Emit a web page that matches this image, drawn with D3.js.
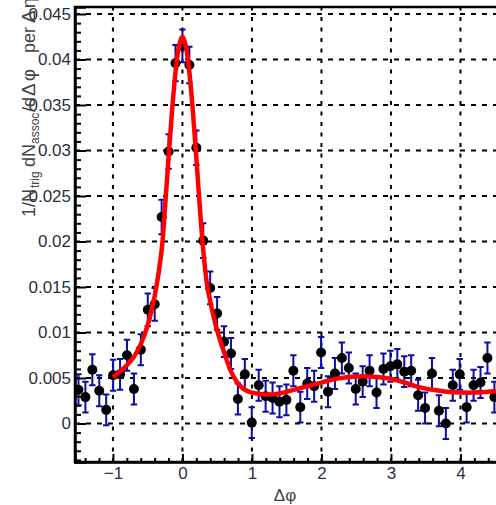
<!DOCTYPE html>
<html>
<head>
<meta charset="utf-8">
<script src="https://cdn.jsdelivr.net/npm/d3@7"></script>
<style>
  html, body { margin: 0; padding: 0; background: #fff; overflow: hidden; }
  text { font-family: "Liberation Sans", Arial, Helvetica, sans-serif; }
</style>
</head>
<body>
<svg id="chart" width="496" height="505"></svg>
<script>
// Δφ correlation histogram: 63 bins over [-π/2, 3π/2), bin k centred at k·(2π/63)
const binWidth = 2 * Math.PI / 63;
const binIndex = d3.range(-15, 46);

// per-bin yield 1/N_trig dN_assoc/dΔφ
const yieldValues = [
  0.0037, 0.0029, 0.0059, 0.0036, 0.0015, 0.0053, 0.0054, 0.0075, 0.0038, 0.0081,
  0.0125, 0.0131, 0.0227, 0.0299, 0.0396, 0.0415, 0.0394, 0.0303, 0.0201, 0.0149,
  0.0121, 0.0090, 0.0077, 0.0027, 0.0054, 0.0001, 0.0042, 0.0030, 0.0028, 0.0024,
  0.0026, 0.0058, 0.0018, 0.0044, 0.0041, 0.0078, 0.0035, 0.0055, 0.0072, 0.0061,
  0.0038, 0.0046, 0.0058, 0.0034, 0.0060, 0.0063, 0.0065, 0.0057, 0.0058, 0.0031,
  0.0017, 0.0055, 0.0014, 0.0000, 0.0042, 0.0054, 0.0018, 0.0042, 0.0045, 0.0072,
  0.0029
];

// statistical error on each bin
const yieldErrors = [
  0.0017, 0.0017, 0.0017, 0.0017, 0.0017, 0.0017, 0.0017, 0.0017, 0.0017, 0.0017,
  0.0018, 0.0018, 0.0019, 0.0019, 0.0020, 0.0018, 0.0020, 0.0019, 0.0019, 0.0018,
  0.0018, 0.0017, 0.0017, 0.0017, 0.0017, 0.0017, 0.0017, 0.0017, 0.0017, 0.0017,
  0.0017, 0.0017, 0.0017, 0.0017, 0.0017, 0.0017, 0.0017, 0.0017, 0.0017, 0.0017,
  0.0017, 0.0017, 0.0017, 0.0017, 0.0017, 0.0017, 0.0017, 0.0017, 0.0017, 0.0017,
  0.0017, 0.0017, 0.0017, 0.0017, 0.0017, 0.0017, 0.0017, 0.0017, 0.0017, 0.0017,
  0.0017
];

// fit function sampled along Δφ
const fitPhi = [
  -1.00, -0.90, -0.80, -0.70, -0.60, -0.50, -0.40, -0.30, -0.25, -0.20,
  -0.15, -0.10, -0.05, 0.00, 0.05, 0.10, 0.15, 0.20, 0.25, 0.30,
  0.35, 0.40, 0.50, 0.60, 0.70, 0.80, 0.90, 1.00, 1.20, 1.40,
  1.60, 1.80, 2.00, 2.20, 2.40, 2.60, 2.80, 3.00, 3.20, 3.40,
  3.60, 3.80, 4.00, 4.20, 4.40, 4.60, 4.74
];
const fitValues = [
  0.0051, 0.0057, 0.0064, 0.0073, 0.0087, 0.0108, 0.0140, 0.0190, 0.0238, 0.0292,
  0.0343, 0.0386, 0.0414, 0.0425, 0.0414, 0.0386, 0.0343, 0.0292, 0.0238, 0.0190,
  0.0155, 0.0134, 0.0102, 0.0078, 0.0057, 0.0044, 0.0037, 0.0034, 0.0032, 0.0033,
  0.0037, 0.0041, 0.0045, 0.0049, 0.0051, 0.0052, 0.0051, 0.0049, 0.0045, 0.0040,
  0.0037, 0.0035, 0.0034, 0.0034, 0.0035, 0.0036, 0.0037
];

const xTicks = [-1, 0, 1, 2, 3, 4];
const yTicks = [0, 0.005, 0.01, 0.015, 0.02, 0.025, 0.03, 0.035, 0.04, 0.045];

const svg = d3.select("#chart");
const frameL = 75, frameR = 511.7, frameT = 7, frameB = 462;

const x = d3.scaleLinear().domain([-15.5 * binWidth, 47.5 * binWidth]).range([frameL, frameR]);
const y = d3.scaleLinear().domain([-0.00423, 0.04577]).range([frameB, frameT]);

const points = binIndex.map((k, i) => ({ phi: k * binWidth, v: yieldValues[i], e: yieldErrors[i] }));

svg.append("defs").append("clipPath").attr("id", "plotClip")
  .append("rect").attr("x", frameL).attr("y", frameT).attr("width", frameR - frameL).attr("height", frameB - frameT);

// dashed grid at the major ticks
const grid = svg.append("g").attr("stroke", "#000").attr("stroke-width", 2).attr("fill", "none");
grid.selectAll("line.gx").data(xTicks).join("line").attr("class", "gx")
  .attr("x1", d => x(d)).attr("x2", d => x(d)).attr("y1", frameB).attr("y2", frameT)
  .attr("stroke-dasharray", "4,6.5");
grid.selectAll("line.gy").data(yTicks).join("line").attr("class", "gy")
  .attr("y1", d => y(d)).attr("y2", d => y(d)).attr("x1", frameL).attr("x2", frameR)
  .attr("stroke-dasharray", "5,6");

const plot = svg.append("g").attr("clip-path", "url(#plotClip)");

// error bars with end caps
const eb = plot.append("g").attr("stroke", "#0c0ca8").attr("stroke-width", 2);
eb.selectAll("line.stem").data(points).join("line").attr("class", "stem")
  .attr("x1", d => x(d.phi)).attr("x2", d => x(d.phi))
  .attr("y1", d => y(d.v - d.e)).attr("y2", d => y(d.v + d.e));
eb.selectAll("line.capHi").data(points).join("line").attr("class", "capHi")
  .attr("x1", d => x(d.phi) - 3.2).attr("x2", d => x(d.phi) + 3.2)
  .attr("y1", d => y(d.v + d.e)).attr("y2", d => y(d.v + d.e));
eb.selectAll("line.capLo").data(points).join("line").attr("class", "capLo")
  .attr("x1", d => x(d.phi) - 3.2).attr("x2", d => x(d.phi) + 3.2)
  .attr("y1", d => y(d.v - d.e)).attr("y2", d => y(d.v - d.e));

// markers
plot.append("g").selectAll("circle").data(points).join("circle")
  .attr("cx", d => x(d.phi)).attr("cy", d => y(d.v)).attr("r", 5).attr("fill", "#000");

// fit curve
const fitLine = d3.line().x(d => x(d[0])).y(d => y(d[1])).curve(d3.curveCatmullRom.alpha(0.5));
plot.append("path").datum(fitPhi.map((p, i) => [p, fitValues[i]]))
  .attr("d", fitLine).attr("fill", "none").attr("stroke", "#ff0000").attr("stroke-width", 4.5)
  .attr("stroke-linejoin", "round");

// axes: ticks point inwards
const fmtY = d => d === 0 ? "0" : String(+d.toFixed(3));
const yMinor = d3.range(-0.004, 0.0458, 0.001).map(v => +v.toFixed(3)).filter(v => yTicks.indexOf(v) < 0);
const xMinor = d3.range(-1.4, 4.75, 0.2).map(v => +v.toFixed(1)).filter(v => xTicks.indexOf(v) < 0);

svg.append("g").attr("transform", `translate(${frameL},0)`)
  .call(d3.axisLeft(y).tickValues(yTicks).tickFormat(fmtY).tickSize(-11).tickPadding(4));
svg.append("g").attr("transform", `translate(${frameL},0)`)
  .call(d3.axisLeft(y).tickValues(yMinor).tickFormat("").tickSize(-6))
  .call(g => g.select(".domain").remove());

svg.append("g").attr("transform", `translate(0,${frameB})`)
  .call(d3.axisBottom(x).tickValues(xTicks).tickFormat(d3.format("d")).tickSize(-8).tickPadding(5));
svg.append("g").attr("transform", `translate(0,${frameB})`)
  .call(d3.axisBottom(x).tickValues(xMinor).tickFormat("").tickSize(-4))
  .call(g => g.select(".domain").remove());

svg.selectAll(".tick line").attr("stroke", "#000").attr("stroke-width", 2);
svg.selectAll(".domain").attr("stroke", "#000").attr("stroke-width", 2.5);
svg.selectAll(".tick text").attr("font-size", 17).attr("fill", "#2b3040")
  .attr("font-family", '"Liberation Sans", Arial, sans-serif');

// frame
svg.append("rect").attr("x", frameL).attr("y", frameT).attr("width", frameR - frameL).attr("height", frameB - frameT)
  .attr("fill", "none").attr("stroke", "#000").attr("stroke-width", 2.5);

// axis titles
svg.append("text").attr("x", 285).attr("y", 501).attr("text-anchor", "middle")
  .attr("font-size", 17).attr("fill", "#444").text("Δφ");

// rotated y title; each piece placed along the text direction
const yt = svg.append("text").attr("transform", "translate(35,217) rotate(-90)")
  .attr("font-size", 18).attr("fill", "#444");
yt.append("tspan").attr("x", 0).text("1/N");
yt.append("tspan").attr("x", 29).attr("font-size", 12).attr("dy", 4).text("trig");
yt.append("tspan").attr("x", 50).attr("dy", -4).text("dN");
yt.append("tspan").attr("x", 73).attr("font-size", 12).attr("dy", 4).text("assoc");
yt.append("tspan").attr("x", 105).attr("dy", -4).text("/d");
yt.append("tspan").attr("x", 121).attr("font-size", 19).attr("letter-spacing", 2).text("Δφ");
yt.append("tspan").attr("x", 164).text("per");
yt.append("tspan").attr("x", 194).attr("font-size", 19).attr("letter-spacing", 2).text("Δη");
</script>
</body>
</html>
